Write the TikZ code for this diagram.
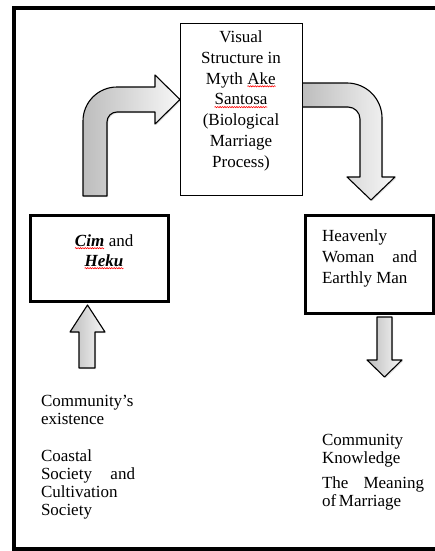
\documentclass[tikz,border=0pt]{standalone}
\usepackage{fontspec}
\setmainfont{Liberation Serif}
\usetikzlibrary{shadows,decorations.pathmorphing}

\newcommand\spellsq[1]{\tikz[baseline=(w.base)]{\node[inner sep=0pt,outer sep=0pt] (w) {#1};\draw[red,line width=0.6pt,decorate,decoration={snake,amplitude=0.6pt,segment length=2.4pt}] ([yshift=-2.2pt]w.base west) -- ([yshift=-2.2pt]w.base east);}}

\begin{document}
\begin{tikzpicture}[x=1pt,y=-1pt,
  frame/.style={line width=3.2pt},
  thinbox/.style={draw,line width=1pt,fill=white},
  thickbox/.style={draw,line width=3pt,fill=white},
  blockarrow/.style={draw,line width=1.1pt,line join=round,left color=black!26,right color=black!3,
     drop shadow={shadow xshift=1.2pt,shadow yshift=-1.2pt,opacity=0.22}},
  txt/.style={inner sep=0pt,outer sep=0pt,anchor=base west},
  ctxt/.style={inner sep=0pt,outer sep=0pt,anchor=base},
  boxfont/.style={font=\fontsize{17}{20.8}\selectfont},
  rbfont/.style={font=\fontsize{17}{21}\selectfont},
  bottomfont/.style={font=\fontsize{17}{18.3}\selectfont},
]
\useasboundingbox (0,0) rectangle (434,551);
\fill[white] (0,0) rectangle (434,551);

% outer frame (open on the right)
\draw[frame] (440,8) -- (14,8) -- (14,549) -- (440,549);

% bent arrow from left box up into the centre box
\path[blockarrow] (83,196) -- (83,121) .. controls (83,102.2) and (98.2,87) .. (117,87)
  -- (155,87) -- (155,75) -- (180,99.5) -- (155,124) -- (155,112) -- (117,112)
  .. controls (111.5,112) and (107,116.5) .. (107,122) -- (107,196) -- cycle;

% bent arrow from centre box down to right box
\path[blockarrow] (302,83) -- (347,83) .. controls (366.3,83) and (382,98.7) .. (382,118)
  -- (382,177) -- (395,177) -- (371,200) -- (347,177) -- (360,177) -- (360,119)
  .. controls (360,112.4) and (354.6,107) .. (348,107) -- (302,107) -- cycle;

% small up arrow
\path[blockarrow] (79,368) -- (79,332) -- (70,332) -- (87.5,305) -- (105,332) -- (95,332) -- (95,368) -- cycle;

% small down arrow
\path[blockarrow] (377,317) -- (392,317) -- (392,360) -- (402,360) -- (384.5,377) -- (367,360) -- (377,360) -- cycle;

% boxes
\node[thinbox,anchor=north west,minimum width=122pt,minimum height=172pt] (centre) at (180,23) {};
\node[thickbox,anchor=north west,minimum width=138pt,minimum height=86pt] (leftbox) at (29,214) {};
\node[thickbox,anchor=north west,minimum width=128pt,minimum height=98pt] (rightbox) at (304,214) {};

% texts
\node[ctxt,boxfont] (centretext) at (241,42.5) {\begin{tabular}[t]{@{}c@{}}Visual\\ Structure in\\ Myth \spellsq{Ake}\\ \spellsq{Santosa}\\ (Biological\\ Marriage\\ Process)\end{tabular}};

\node[ctxt,font=\fontsize{17}{20}\selectfont] (cimheku) at (104,246) {\begin{tabular}[t]{@{}c@{}}\spellsq{\textbf{\textit{Cim}}} and\\ \spellsq{\textbf{\textit{Heku}}}\end{tabular}};

\node[txt,rbfont] (heavenly) at (322,241) {\begin{tabular}[t]{@{}l@{}}Heavenly\\ \makebox[95pt][s]{Woman and}\\ Earthly Man\end{tabular}};

\node[txt,bottomfont] (existence) at (41,406) {\begin{tabular}[t]{@{}l@{}}Community's\\ existence\end{tabular}};
\node[txt,bottomfont] (society) at (41,461) {\begin{tabular}[t]{@{}l@{}}Coastal\\ \makebox[94pt][s]{Society and}\\ Cultivation\\ Society\end{tabular}};

\node[txt,bottomfont] (knowledge) at (322,445) {\begin{tabular}[t]{@{}l@{}}Community\\ Knowledge\end{tabular}};
\node[txt,bottomfont] (meaning) at (322,488) {\begin{tabular}[t]{@{}l@{}}\makebox[102pt][s]{The Meaning}\\ of\,Marriage\end{tabular}};
\end{tikzpicture}
\end{document}
